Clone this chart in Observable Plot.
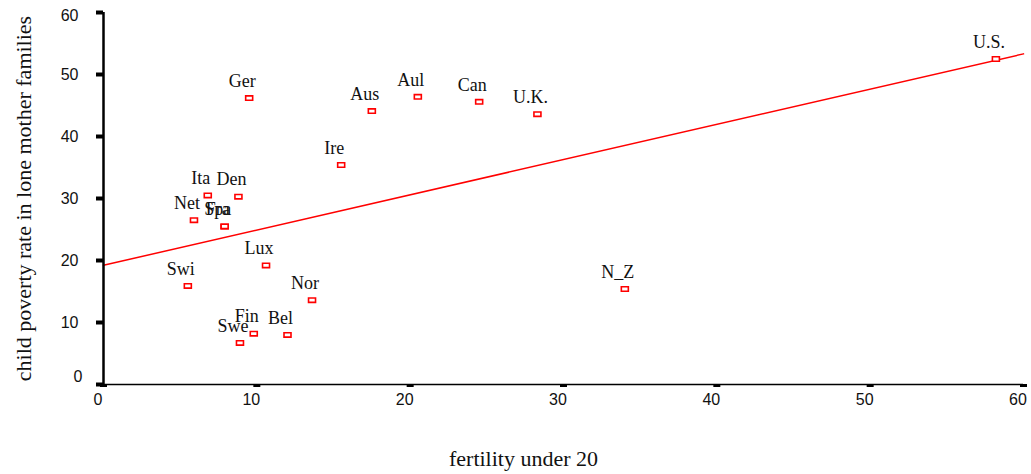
<!DOCTYPE html>
<html>
<head>
<meta charset="utf-8">
<script src="https://cdn.jsdelivr.net/npm/d3@7"></script>
<script src="https://cdn.jsdelivr.net/npm/@observablehq/plot@0.6"></script>
<style>
  html, body { margin: 0; padding: 0; background: #fff; }
  #chart svg { display: block; }
</style>
</head>
<body>
<div id="chart"></div>
<script>
// ---- data ----
const countries = ["Ger","Aus","Aul","Can","U.K.","U.S.","Ire","Ita","Den","Net","Fra","Spa","Lux","Swi","Fin","Swe","Bel","Nor","N_Z"];
const fertility = [9.5, 17.5, 20.5, 24.5, 28.3, 58.2, 15.5, 6.8, 8.8, 5.9, 7.9, 7.9, 10.6, 5.5, 9.8, 8.9, 12.0, 13.6, 34.0];
const poverty   = [46.2, 44.1, 46.4, 45.6, 43.6, 52.5, 35.4, 30.5, 30.3, 26.5, 25.5, 25.5, 19.2, 15.9, 8.2, 6.7, 8.0, 13.6, 15.4];
const xDomain = [0, 60];
const yDomain = [0, 60];
const xTicks = [0, 10, 20, 30, 40, 50, 60];
const yTicksMid = [10, 20, 30, 40, 50];
const xTitle = "fertility under 20";
const yTitle = "child poverty rate in lone mother families";

const data = countries.map((c, i) => ({country: c, x: fertility[i], y: poverty[i]}));

// least-squares fit computed from the data, drawn across the x domain
const mx = d3.mean(data, d => d.x), my = d3.mean(data, d => d.y);
const slope = d3.sum(data, d => (d.x - mx) * (d.y - my)) / d3.sum(data, d => (d.x - mx) ** 2);
const intercept = my - slope * mx;
const fit = xDomain.map(x => ({x, y: intercept + slope * x}));

const serif = "'Liberation Serif', 'Times New Roman', serif";
const sans = "'Liberation Sans', Arial, sans-serif";

const boxSymbol = {
  draw(ctx) { ctx.rect(-3.5, -2.2, 7, 4.4); }
};

const chart = Plot.plot({
  width: 1031,
  height: 474,
  marginLeft: 103,
  marginRight: 8,
  marginTop: 12,
  marginBottom: 90,
  x: {domain: xDomain},
  y: {domain: yDomain},
  style: {background: "#fff", color: "#000"},
  marks: [
    // regression line
    Plot.line(fit, {x: "x", y: "y", stroke: "#ff0000", strokeWidth: 1.5}),
    // axis lines
    Plot.ruleY([yDomain[0]], {stroke: "#000", strokeWidth: 1.5}),
    Plot.ruleX([xDomain[0]], {stroke: "#000", strokeWidth: 2.5}),
    // y ticks (marks)
    Plot.axisY({ticks: [0, ...yTicksMid, 60], tickSize: 7, strokeWidth: 4, fill: "none", label: null}),
    // y tick labels
    Plot.axisY({ticks: yTicksMid, tickSize: 0, tickPadding: 25, fontSize: 16, fontFamily: sans, fill: "#111", label: null}),
    Plot.axisY({ticks: [0], tickSize: 0, tickPadding: 25, dx: 4, dy: -8, fontSize: 16, fontFamily: sans, fill: "#111", label: null}),
    Plot.axisY({ticks: [60], tickSize: 0, tickPadding: 25, dy: 3, fontSize: 16, fontFamily: sans, fill: "#111", label: null}),
    // x ticks (marks)
    Plot.axisX({ticks: xTicks, tickSize: 3, strokeWidth: 7, fill: "none", label: null}),
    // x tick labels
    Plot.axisX({ticks: xTicks, tickSize: 0, tickPadding: 9, dx: -5.5, fontSize: 16, fontFamily: sans, fill: "#111", label: null}),
    // points
    Plot.dot(data, {x: "x", y: "y", symbol: boxSymbol, stroke: "#ff0000", fill: "#fff", strokeWidth: 1.6}),
    // labels
    Plot.text(data, {x: "x", y: "y", text: "country", dx: -7, dy: -17, fontSize: 18, fontFamily: serif, fill: "#111"}),
    // axis titles
    Plot.text([xTitle], {frameAnchor: "bottom", textAnchor: "middle", lineAnchor: "middle", dx: -40, dy: 74, fontSize: 22, fontFamily: serif, fill: "#111"}),
    Plot.text([yTitle], {frameAnchor: "left", textAnchor: "middle", lineAnchor: "middle", rotate: -90, dx: -80, fontSize: 22, fontFamily: serif, fill: "#111"})
  ]
});

document.getElementById("chart").appendChild(chart);
</script>
</body>
</html>
